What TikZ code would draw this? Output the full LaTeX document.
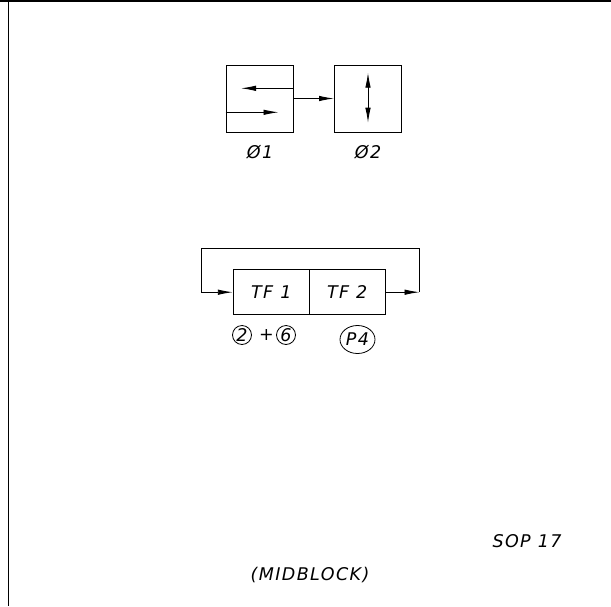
\documentclass[tikz,border=0pt]{standalone}
\usepackage{fontspec}
\setmainfont{DejaVu Sans}[ItalicFont={DejaVu Sans Oblique}]
\usetikzlibrary{arrows.meta,shapes.geometric}
\tikzset{
  lbl/.style={inner sep=0pt, font=\fontsize{17.5}{20}\selectfont\itshape\addfontfeatures{LetterSpace=8}},
  blk/.style={draw, line width=1pt, inner sep=0pt},
  conn/.style={line width=0.9pt},
  arr/.style={conn, -{Latex[length=15pt,width=5.5pt]}},
  dblarr/.style={conn, {Latex[length=15pt,width=5.5pt]}-{Latex[length=15pt,width=5.5pt]}},
  frame/.style={line width=1.8pt},
  ring/.style={draw, line width=0.8pt, inner sep=0pt}
}
\begin{document}
\begin{tikzpicture}[x=1pt,y=-1pt]
\useasboundingbox (0,0) rectangle (611,606);
% frame lines
\coordinate (tl) at (0,1);
\coordinate (tr) at (611,1);
\coordinate (vt) at (8.5,0);
\coordinate (vb) at (8.5,606);
\draw[frame] (tl) -- (tr);
\draw[frame] (vt) -- (vb);
% upper group
\node[blk, minimum width=67pt, minimum height=67pt] (o1) at (259.5,98.5) {};
\node[blk, minimum width=67pt, minimum height=67pt] (o2) at (368,98.5) {};
\coordinate (o1a) at ([yshift=10.2pt]o1.east);
\coordinate (o1b) at ([xshift=15.5pt]o1a -| o1.west);
\draw[arr] (o1a) -- (o1b);
\coordinate (o1c) at ([yshift=-13.8pt]o1.west);
\coordinate (o1d) at ([xshift=-15pt]o1c -| o1.east);
\draw[arr] (o1c) -- (o1d);
\draw[arr] (o1.east) -- (o2.east -| o2.west);
\coordinate (o2t) at ([yshift=25.8pt]o2.center);
\coordinate (o2b) at ([yshift=-24.2pt]o2.center);
\draw[dblarr] (o2t) -- (o2b);
\node[lbl] (l1) at (260,152.5) {Ø1};
\node[lbl] (l2) at (368,152.5) {Ø2};
% lower group
\node[blk, minimum width=76pt, minimum height=45.5pt, lbl] (tf1) at (271.3,292.2) {TF\hspace{7pt}1};
\node[blk, minimum width=75.7pt, minimum height=45.5pt, lbl] (tf2) at (347.15,292.2) {TF\hspace{7pt}2};
\coordinate (fr) at (419.5,292.2);
\coordinate (frt) at (419.5,248.3);
\coordinate (flt) at (201,248.3);
\coordinate (fl) at (201,292.2);
\draw[arr] (tf2.east) -- (fr);
\draw[conn] (fr) -- (frt) -- (flt) -- (fl);
\draw[arr] (fl) -- (tf1.west);
\node[ring, circle, minimum size=19pt, lbl] (c2) at (242,335) {2};
\node[lbl] (plus) at (266.5,335) {+};
\node[ring, circle, minimum size=19pt, lbl] (c6) at (286,335) {6};
\node[ring, ellipse, minimum width=35pt, minimum height=28pt, lbl] (p4) at (357.5,339.5) {P4};
% bottom texts
\node[lbl] (sop) at (527,541.5) {SOP\hspace{7pt}17};
\node[lbl] (mid) at (310,575) {(MIDBLOCK)};
\end{tikzpicture}
\end{document}
